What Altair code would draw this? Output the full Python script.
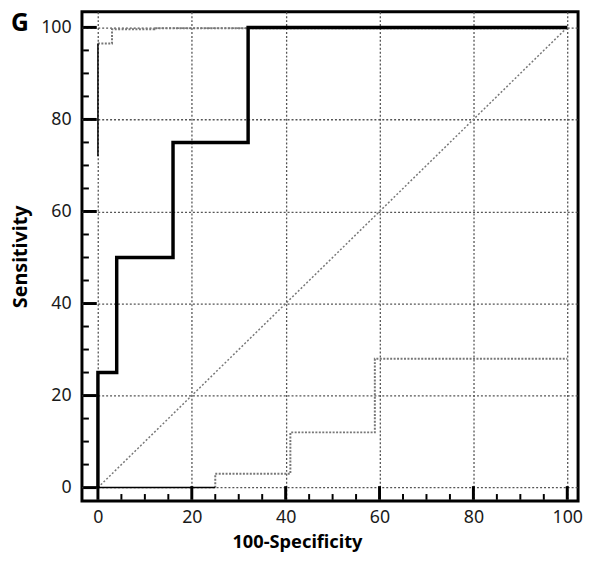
import altair as alt
import pandas as pd

# ROC curve data (100-Specificity, Sensitivity)
roc_a_fpr = [0, 0, 4, 16, 32, 100]
roc_a_sens = [0, 25, 50, 75, 100, 100]

roc_b_solid_fpr = [0, 0]
roc_b_solid_sens = [72, 96.5]
roc_b_fpr = [0, 3, 12, 100]
roc_b_sens = [96.5, 99.6, 99.8, 100]

roc_c_solid_fpr = [0, 25]
roc_c_solid_sens = [0, 0]
roc_c_fpr = [25, 25, 41, 59, 100]
roc_c_sens = [0, 3, 12, 28, 28]

diag_vals = [0, 100]
major_ticks = [0, 20, 40, 60, 80, 100]
minor_ticks = [5, 10, 15, 25, 30, 35, 45, 50, 55, 65, 70, 75, 85, 90, 95]

x_domain = [-3.4, 102.3]
y_domain = [-2.9, 103.4]

W, H = 503, 496
FONT = "Noto Sans"

xscale = alt.Scale(domain=x_domain, nice=False, zero=False)
yscale = alt.Scale(domain=y_domain, nice=False, zero=False)
xaxis = alt.Axis(values=major_ticks, title="100-Specificity", grid=True, ticks=False,
                 domain=False, labelPadding=8, titlePadding=6, format="d",
                 titleFontSize=18.5, titleX=218)
yaxis = alt.Axis(values=major_ticks, title="Sensitivity", grid=True, ticks=False,
                 domain=False, labelPadding=11, titlePadding=10, format="d",
                 titleFontSize=20)


def X(f):
    return alt.X(f, scale=xscale, axis=xaxis)


def Y(f):
    return alt.Y(f, scale=yscale, axis=yaxis)


def line_df(xs, ys):
    return pd.DataFrame({"fpr": xs, "sens": ys, "i": list(range(len(xs)))})


diag = alt.Chart(line_df(diag_vals, diag_vals)).mark_line(
    color="#777", strokeWidth=1.5, strokeDash=[2, 2]
).encode(x=X("fpr:Q"), y=Y("sens:Q"), order="i:Q")

c_dot = alt.Chart(line_df(roc_c_fpr, roc_c_sens)).mark_line(
    color="#777", strokeWidth=2, strokeDash=[2, 1.5], interpolate="step-after"
).encode(x=X("fpr:Q"), y=Y("sens:Q"), order="i:Q")

c_solid = alt.Chart(line_df(roc_c_solid_fpr, roc_c_solid_sens)).mark_line(
    color="black", strokeWidth=1.5
).encode(x=X("fpr:Q"), y=Y("sens:Q"), order="i:Q")

b_dot = alt.Chart(line_df(roc_b_fpr, roc_b_sens)).mark_line(
    color="#777", strokeWidth=2, strokeDash=[2, 1.5], interpolate="step-after"
).encode(x=X("fpr:Q"), y=Y("sens:Q"), order="i:Q")

b_solid = alt.Chart(line_df(roc_b_solid_fpr, roc_b_solid_sens)).mark_line(
    color="black", strokeWidth=1.5
).encode(x=X("fpr:Q"), y=Y("sens:Q"), order="i:Q")

# Solid black curve and the inward frame ticks share one line layer
MAJ_PX, MIN_PX = 15, 7
ux = W / (x_domain[1] - x_domain[0])
uy = H / (y_domain[1] - y_domain[0])
# start ticks just inside the frame (hidden under the frame stroke)
x_edge = x_domain[0] + 1.2 / ux
y_edge = y_domain[0] + 1.2 / uy

rows = []
for k, (fx, sy) in enumerate(zip(roc_a_fpr, roc_a_sens)):
    rows.append({"sid": "curveA", "fpr": fx, "sens": sy, "i": k, "w": 3.5})


def add_ticks(vals, px, axis, width, tag):
    for k, v in enumerate(vals):
        sid = f"{tag}{k}"
        if axis == "x":
            rows.append({"sid": sid, "fpr": v, "sens": y_edge, "i": 0, "w": width})
            rows.append({"sid": sid, "fpr": v, "sens": y_domain[0] + px / uy, "i": 1, "w": width})
        else:
            rows.append({"sid": sid, "fpr": x_edge, "sens": v, "i": 0, "w": width})
            rows.append({"sid": sid, "fpr": x_domain[0] + px / ux, "sens": v, "i": 1, "w": width})


add_ticks(major_ticks, MAJ_PX, "x", 3, "xM")
add_ticks(minor_ticks, MIN_PX, "x", 2, "xm")
add_ticks(major_ticks, MAJ_PX, "y", 3, "yM")
add_ticks(minor_ticks, MIN_PX, "y", 2, "ym")
solid_df = pd.DataFrame(rows)

a_line = alt.Chart(solid_df).mark_line(
    color="black", interpolate="step-after", strokeCap="butt"
).encode(
    x=X("fpr:Q"), y=Y("sens:Q"), detail="sid:N", order="i:Q",
    strokeWidth=alt.StrokeWidth("w:Q", scale=None, legend=None)
)

panel = alt.Chart(pd.DataFrame({"t": ["G"]})).mark_text(
    font=FONT, fontSize=25, fontWeight="bold", align="left", baseline="top",
    color="black"
).encode(text="t:N", x=alt.value(-72), y=alt.value(0))

chart = alt.layer(
    diag, c_dot, c_solid, b_dot, b_solid, a_line, panel
).properties(
    width=W, height=H,
    padding={"left": 3, "top": 0, "right": 0, "bottom": 0},
).configure_view(
    stroke="black", strokeWidth=3
).configure_axis(
    gridColor="#555", gridDash=[2, 2], gridWidth=1.3, gridOpacity=1,
    labelFont=FONT, labelFontSize=18, labelColor="#1a1a1a",
    titleFont=FONT, titleFontWeight="bold", titleColor="black"
)

chart.save("out.html", embed_options={"renderer": "svg", "actions": False})
